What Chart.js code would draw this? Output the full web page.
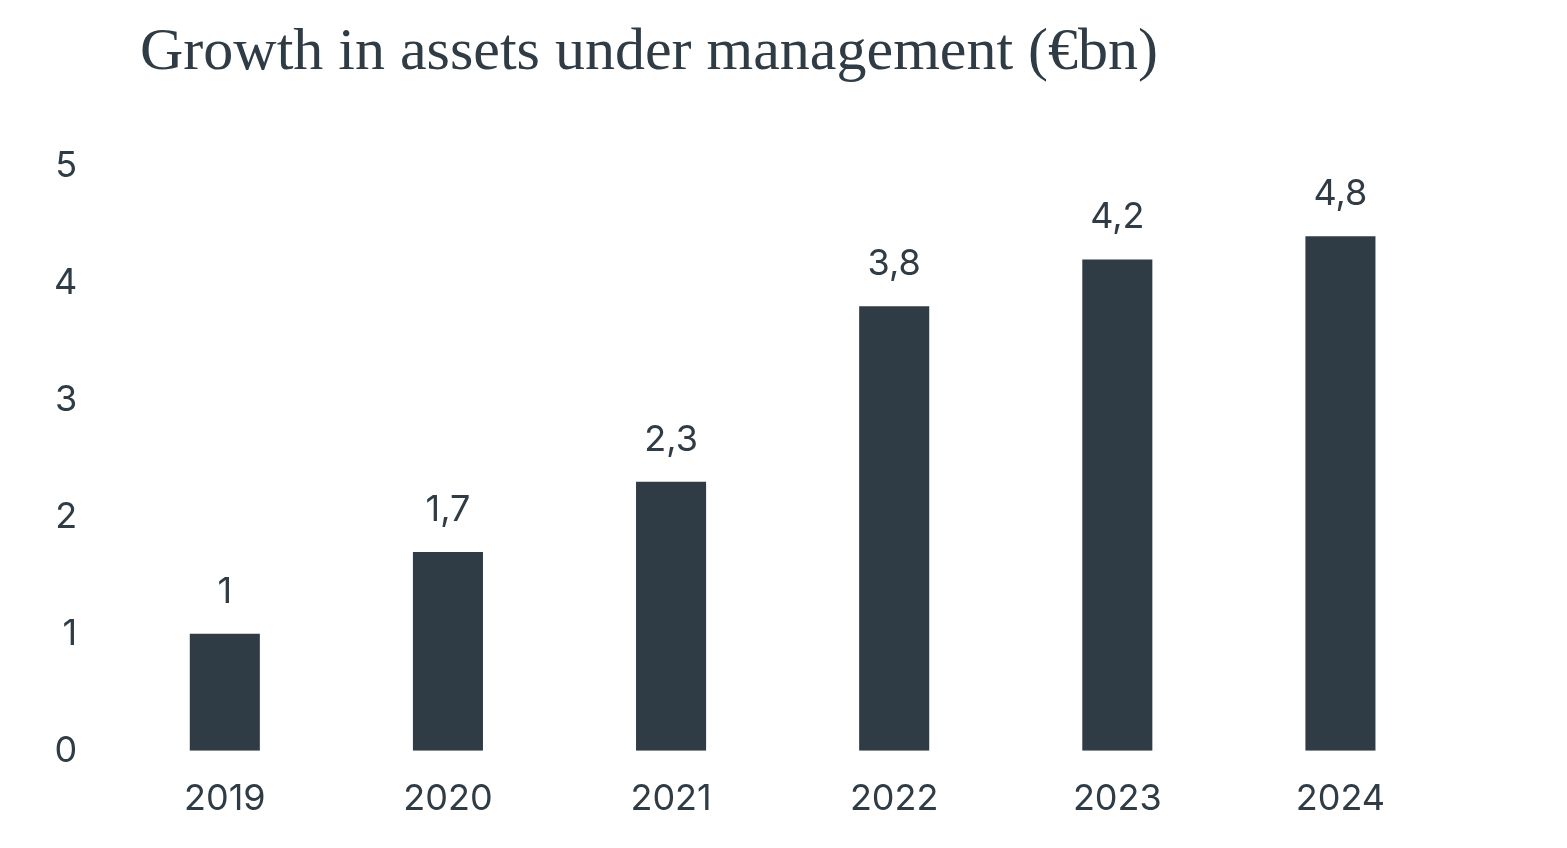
<!DOCTYPE html>
<html>
<head>
<meta charset="utf-8">
<script src="https://cdn.jsdelivr.net/npm/chart.js@4"></script>
<style>
  html, body { margin: 0; padding: 0; background: #fff; }
  #wrap { position: relative; width: 1567px; height: 848px; }
  h1 {
    position: absolute; left: 140px; top: 13px; margin: 0;
    font-family: "Liberation Serif", serif; font-weight: normal;
    font-size: 60px; line-height: 72px; color: #2f3c45;
  }
  canvas { position: absolute; left: 0; top: 0; }
</style>
</head>
<body>
<div id="wrap">
  <h1>Growth in assets under management (€bn)</h1>
  <canvas id="chart" width="1567" height="848"></canvas>
</div>
<script>
const years = ["2019", "2020", "2021", "2022", "2023", "2024"];
const barValues = [1, 1.7, 2.3, 3.8, 4.2, 4.4];
const valueLabels = ["1", "1,7", "2,3", "3,8", "4,2", "4,8"];
const yTicks = [0, 1, 2, 3, 4, 5];

const ink = "#2f3c45";
const tickFont = {family: "Inter, 'Noto Sans', sans-serif", size: 36};

// labels above bars, placed from the bar elements
const barLabels = {
  id: "barLabels",
  afterDatasetsDraw(chart) {
    const ctx = chart.ctx;
    const meta = chart.getDatasetMeta(0);
    ctx.save();
    ctx.fillStyle = ink;
    ctx.font = `${tickFont.size}px ${tickFont.family}`;
    ctx.textAlign = "center";
    ctx.textBaseline = "middle";
    meta.data.forEach((bar, i) => {
      ctx.fillText(valueLabels[i], bar.x, bar.y - 42);
    });
    ctx.restore();
  },
};

new Chart(document.getElementById("chart"), {
  type: "bar",
  plugins: [barLabels],
  data: {
    labels: years,
    datasets: [{
      data: barValues,
      backgroundColor: ink,
      barPercentage: 0.314,
      categoryPercentage: 1,
    }],
  },
  options: {
    responsive: false,
    animation: false,
    layout: {padding: {top: 166, left: 18, right: 115, bottom: 0}},
    plugins: {legend: {display: false}, tooltip: {enabled: false}, title: {display: false}},
    scales: {
      x: {
        grid: {display: false, drawTicks: false},
        border: {display: false},
        ticks: {color: ink, font: tickFont, padding: 27},
      },
      y: {
        min: 0,
        max: 5,
        afterBuildTicks: (axis) => { axis.ticks = yTicks.map((v) => ({value: v})); },
        grid: {display: false, drawTicks: false},
        border: {display: false},
        ticks: {color: ink, font: tickFont, padding: 36},
      },
    },
  },
});
</script>
</body>
</html>
